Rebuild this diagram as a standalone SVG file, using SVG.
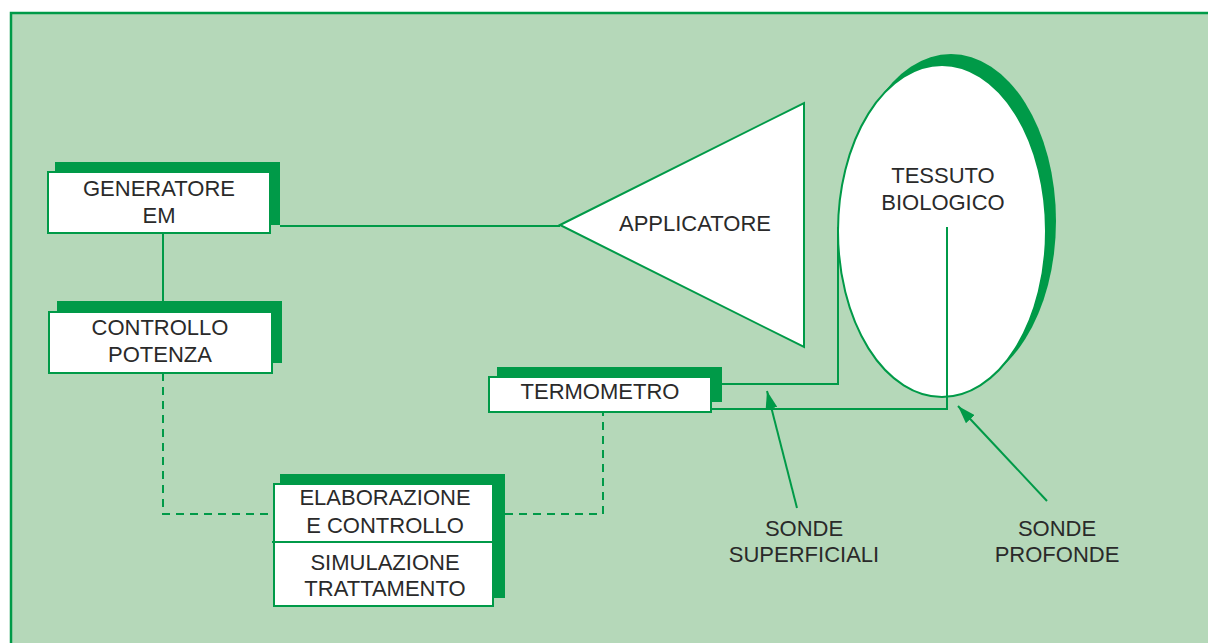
<svg xmlns="http://www.w3.org/2000/svg" width="1208" height="643" viewBox="0 0 1208 643">
<defs>
<style>
.bg{fill:#b5d8b9}
.sh{fill:#009a48}
.box{fill:#fff;stroke:#009a48;stroke-width:2}
.ln{fill:none;stroke:#009a48;stroke-width:2}
.dash{fill:none;stroke:#009a48;stroke-width:2;stroke-dasharray:8,6}
.t{font-family:"Liberation Sans",Arial,sans-serif;font-size:22px;fill:#2a2a2a;text-anchor:middle}
</style>
<marker id="ah" markerWidth="20" markerHeight="12" refX="18" refY="6" orient="auto" markerUnits="userSpaceOnUse">
<path d="M0,0 L18,6 L0,12 Z" fill="#009a48"/>
</marker>
</defs>
<rect x="0" y="0" width="1208" height="643" fill="#fff"/>
<rect class="bg" x="10" y="12" width="1198" height="631"/>
<path d="M11,643 V13 H1208" fill="none" stroke="#009a48" stroke-width="2.5"/>

<g id="connectors">
<line class="ln" x1="163" y1="233" x2="163" y2="312"/>
<line class="ln" x1="280" y1="226" x2="560" y2="226"/>
<path class="dash" d="M163,373 V514 H274"/>
<path class="dash" d="M505,514 H603 V412"/>
<path class="ln" d="M722,384 H838 V227"/>
<path class="ln" d="M711,409 H947 V227"/>
<line class="ln" x1="797" y1="508" x2="767" y2="391" marker-end="url(#ah)"/>
<line class="ln" x1="1047" y1="501" x2="958" y2="406" marker-end="url(#ah)"/>
</g>

<g id="generatore">
<rect class="sh" x="55" y="162" width="225" height="63"/>
<rect class="box" x="48" y="172" width="222" height="61"/>
<text class="t" x="159" y="196">GENERATORE</text>
<text class="t" x="159" y="223">EM</text>
</g>

<g id="controllo">
<rect class="sh" x="57" y="301" width="225" height="62"/>
<rect class="box" x="49" y="312" width="223" height="61"/>
<text class="t" x="160" y="335">CONTROLLO</text>
<text class="t" x="160" y="362">POTENZA</text>
</g>

<g id="elaborazione">
<rect class="sh" x="280" y="474" width="225" height="124"/>
<rect class="box" x="274" y="484" width="219" height="122"/>
<line class="ln" x1="272" y1="542" x2="493" y2="542"/>
<text class="t" x="385" y="505">ELABORAZIONE</text>
<text class="t" x="385" y="533">E CONTROLLO</text>
<text class="t" x="385" y="570">SIMULAZIONE</text>
<text class="t" x="385" y="596">TRATTAMENTO</text>
</g>

<g id="termometro">
<rect class="sh" x="497" y="367" width="225" height="35"/>
<rect class="box" x="489" y="377" width="222" height="35"/>
<text class="t" x="600" y="399">TERMOMETRO</text>
</g>

<g id="applicatore">
<polygon class="box" points="560,225 804,103 804,347"/>
<text class="t" x="695" y="231">APPLICATORE</text>
</g>

<g id="tessuto">
<ellipse class="sh" cx="951" cy="221" rx="105" ry="167"/>
<ellipse class="box" cx="942" cy="231" rx="104" ry="166"/>
<line class="ln" x1="947" y1="227" x2="947" y2="397"/>
<text class="t" x="943" y="183">TESSUTO</text>
<text class="t" x="943" y="210">BIOLOGICO</text>
</g>

<g id="sonde-superficiali">
<text class="t" x="804" y="536">SONDE</text>
<text class="t" x="804" y="562">SUPERFICIALI</text>
</g>

<g id="sonde-profonde">
<text class="t" x="1057" y="536">SONDE</text>
<text class="t" x="1057" y="562">PROFONDE</text>
</g>
</svg>
